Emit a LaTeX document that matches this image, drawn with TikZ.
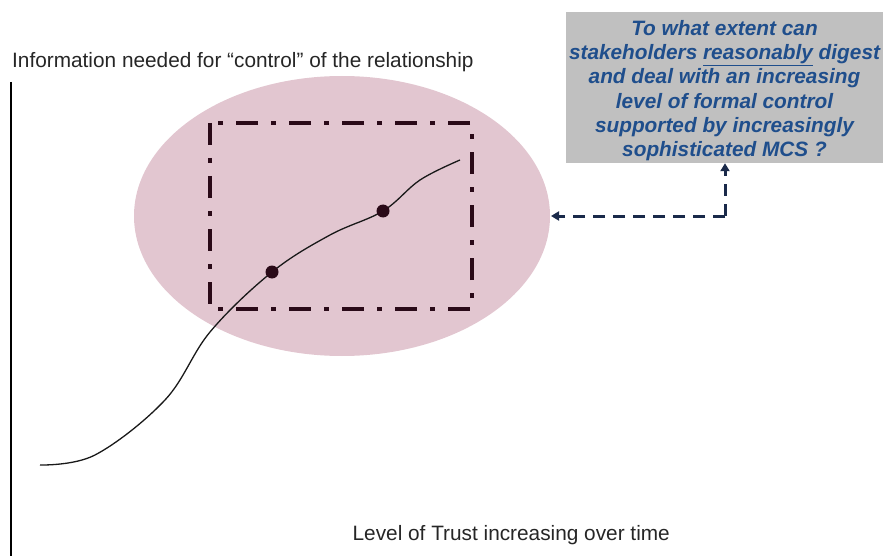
\documentclass[tikz,border=0pt]{standalone}
\usepackage{fontspec}
\setmainfont{Liberation Sans}
\usetikzlibrary{arrows.meta}
\definecolor{pinkfill}{HTML}{E2C6D0}
\definecolor{darkline}{HTML}{2A0A18}
\definecolor{boxgray}{HTML}{C0C0C0}
\definecolor{qblue}{HTML}{1F4E8C}
\definecolor{navy}{HTML}{1A2A4A}
\tikzset{
  framebox/.style={draw=darkline, line width=4pt, dash pattern=on 22pt off 13pt on 5pt off 13pt},
  curveline/.style={draw=black!90, line width=1.3pt},
  dotnode/.style={circle, fill=darkline, inner sep=0pt, minimum size=13pt},
  axisline/.style={draw=black, line width=2pt},
  axislabel/.style={font=\fontsize{20.8}{24}\selectfont, inner sep=0pt, text=black!85},
  questionbox/.style={fill=boxgray, inner sep=0pt, minimum width=317pt, minimum height=151pt},
  questiontext/.style={text=qblue, align=center, inner sep=0pt,
     font=\fontsize{20.8}{24.3}\selectfont\bfseries\itshape},
  linkarrow/.style={draw=navy, line width=3pt, dash pattern=on 12pt off 8pt, -{Triangle[length=8pt,width=9pt]}}
}
\begin{document}
\begin{tikzpicture}[x=1pt,y=-1pt]
\useasboundingbox (0,0) rectangle (883,556);
\fill[pinkfill] (342,216) ellipse [x radius=208, y radius=140];
\draw[framebox] (210,123) rectangle (472,309);
\draw[curveline] plot[smooth, tension=0.6] coordinates {(40,465) (95,455) (165,400) (210,332) (272,272) (330,235) (383,211) (420,180) (460,160)};
\node[dotnode] (d1) at (272,272) {};
\node[dotnode] (d2) at (383,211) {};
\coordinate (ytop) at (11,82);
\coordinate (ybot) at (11,556);
\draw[axisline] (ytop) -- (ybot);
\node[axislabel, anchor=base west] (ylab) at (12,68) {Information needed for “control” of the relationship};
\node[axislabel, anchor=base east] (xlab) at (670,540) {Level of Trust increasing over time};
\node[questionbox] (q) at (724.5,87.5) {};
\node[questiontext] (qtext) at (724.5,90.5) {To what extent can\\stakeholders \underline{reasonably} digest\\and deal with an increasing\\level of formal control\\supported by increasingly\\sophisticated MCS ?};
\coordinate (corner) at (725,216);
\coordinate (ellr) at (551,216);
\draw[linkarrow] (corner) -- (ellr);
\draw[linkarrow] (corner) -- (q.south -| corner);
\end{tikzpicture}
\end{document}
